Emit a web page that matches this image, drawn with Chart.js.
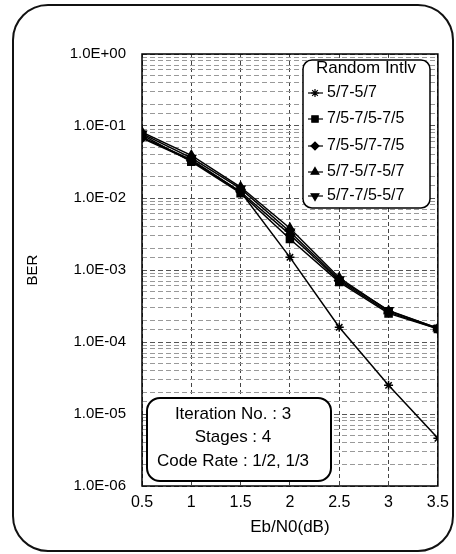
<!DOCTYPE html>
<html>
<head>
<meta charset="utf-8">
<script src="https://cdn.jsdelivr.net/npm/chart.js@4/dist/chart.umd.min.js"></script>
<style>
  html, body { margin: 0; padding: 0; background: #fff; }
  #wrap { position: relative; width: 456px; height: 554px; }
  #frame {
    position: absolute; left: 12px; top: 4px; width: 442px; height: 548px;
    box-sizing: border-box; border: 2px solid #111; border-radius: 36px;
    pointer-events: none;
  }
</style>
</head>
<body>
<div id="wrap">
  <canvas id="berChart" width="456" height="554"></canvas>
  <div id="frame"></div>
</div>
<script>
// Eb/N0 (dB) en el eje x
const ebn0 = [0.5, 1, 1.5, 2, 2.5, 3, 3.5];

// BER por cada combinacion de codigos
const ber_57_57 = [0.070, 0.034, 0.0122, 0.0015, 1.6e-4, 2.5e-5, 4.6e-6];
const ber_75_75_75 = [0.075, 0.032, 0.0117, 0.0027, 6.8e-4, 2.5e-4, 1.52e-4];
const ber_75_57_75 = [0.068, 0.033, 0.0122, 0.0031, 7.1e-4, 2.6e-4, 1.52e-4];
const ber_57_57_57 = [0.082, 0.039, 0.0142, 0.0038, 7.8e-4, 2.7e-4, 1.55e-4];
const ber_57_75_57 = [0.078, 0.036, 0.0135, 0.0034, 7.4e-4, 2.75e-4, 1.55e-4];

const seriesLabels = ["5/7-5/7", "7/5-7/5-7/5", "7/5-5/7-7/5", "5/7-5/7-5/7", "5/7-7/5-5/7"];
const legendTitle = "Random Intlv";
const infoLines = ["Iteration No. : 3", "Stages : 4", "Code Rate : 1/2, 1/3"];

const FONT = "'Liberation Sans', Arial, sans-serif";

function puntos(ys) {
  return ebn0.map((x, i) => ({ x, y: ys[i] }));
}

function etiquetaSci(v) {
  const e = Math.round(Math.log10(v));
  if (Math.abs(v / Math.pow(10, e) - 1) > 1e-6) return '';
  const signo = e < 0 ? '-' : '+';
  return '1.0E' + signo + String(Math.abs(e)).padStart(2, '0');
}

const estilos = [
  { pointStyle: 'star', radius: 4.5, rotation: 0 },
  { pointStyle: 'rect', radius: 5, rotation: 0 },
  { pointStyle: 'rectRot', radius: 4.5, rotation: 0 },
  { pointStyle: 'triangle', radius: 5, rotation: 0 },
  { pointStyle: 'triangle', radius: 5, rotation: 180 }
];
const valores = [ber_57_57, ber_75_75_75, ber_75_57_75, ber_57_57_57, ber_57_75_57];

const datasets = valores.map((v, i) => ({
  label: seriesLabels[i],
  data: puntos(v),
  borderColor: '#000',
  backgroundColor: '#000',
  borderWidth: 1.5,
  pointStyle: estilos[i].pointStyle,
  pointRadius: estilos[i].radius,
  pointRotation: estilos[i].rotation,
  pointBorderWidth: 1.5,
  tension: 0
}));

function rrect(ctx, x, y, w, h, r) {
  ctx.beginPath();
  ctx.moveTo(x + r, y);
  ctx.arcTo(x + w, y, x + w, y + h, r);
  ctx.arcTo(x + w, y + h, x, y + h, r);
  ctx.arcTo(x, y + h, x, y, r);
  ctx.arcTo(x, y, x + w, y, r);
  ctx.closePath();
}

// Marco del area, leyenda y cuadro de texto
const extras = {
  id: 'extras',
  beforeDatasetsDraw(chart) {
    const { ctx, chartArea: a } = chart;
    ctx.save();
    ctx.strokeStyle = '#000';
    ctx.lineWidth = 1.5;
    ctx.setLineDash([]);
    ctx.strokeRect(a.left, a.top, a.right - a.left, a.bottom - a.top);
    ctx.restore();
  },
  afterDraw(chart) {
    const { ctx } = chart;
    ctx.save();
    ctx.setLineDash([]);

    // leyenda
    ctx.fillStyle = '#fff';
    ctx.strokeStyle = '#000';
    ctx.lineWidth = 1.5;
    rrect(ctx, 303, 60, 127, 148, 9);
    ctx.fill();
    ctx.stroke();

    ctx.fillStyle = '#000';
    ctx.textBaseline = 'middle';
    ctx.textAlign = 'center';
    ctx.font = '17px ' + FONT;
    ctx.fillText(legendTitle, 366, 68);

    ctx.textAlign = 'left';
    ctx.font = '16px ' + FONT;
    const ys = [93, 119, 146, 172, 196];
    chart.data.datasets.forEach((ds, i) => {
      const y = ys[i];
      ctx.strokeStyle = '#000';
      ctx.lineWidth = 1.2;
      ctx.beginPath();
      ctx.moveTo(308, y);
      ctx.lineTo(323, y);
      ctx.stroke();
      ctx.fillStyle = '#000';
      Chart.helpers.drawPoint(ctx, {
        pointStyle: ds.pointStyle,
        rotation: ds.pointRotation,
        radius: ds.pointRadius - 0.5,
        borderWidth: 1.2
      }, 315, y);
      ctx.fillStyle = '#000';
      ctx.fillText(ds.label, 327, y);
    });

    // cuadro de parametros
    ctx.fillStyle = '#fff';
    ctx.strokeStyle = '#000';
    ctx.lineWidth = 2;
    rrect(ctx, 147, 398, 184, 83, 13);
    ctx.fill();
    ctx.stroke();
    ctx.fillStyle = '#000';
    ctx.textAlign = 'center';
    ctx.font = '17px ' + FONT;
    infoLines.forEach((t, i) => ctx.fillText(t, 233, 414 + i * 23.5));
    ctx.restore();
  }
};

new Chart(document.getElementById('berChart').getContext('2d'), {
  type: 'line',
  data: { datasets },
  options: {
    responsive: false,
    animation: false,
    layout: { padding: { left: 24, right: 17, top: 54, bottom: 16 } },
    plugins: { legend: { display: false }, tooltip: { enabled: false } },
    scales: {
      x: {
        type: 'linear',
        min: 0.5, max: 3.5,
        afterFit(s) { s.height = 52; },
        ticks: {
          stepSize: 0.5, color: '#000', padding: 7,
          font: { family: FONT, size: 16 },
          callback: v => String(v)
        },
        grid: { color: '#444', lineWidth: 1, drawTicks: false },
        border: { display: false, dash: [4, 3] },
        title: { display: true, text: 'Eb/N0(dB)', color: '#000', padding: { top: 6, bottom: 0 }, font: { family: FONT, size: 17 } }
      },
      y: {
        type: 'logarithmic',
        min: 1e-6, max: 1,
        afterFit(s) { s.width = 118; },
        ticks: {
          autoSkip: false, color: '#000', padding: 16,
          font: { family: FONT, size: 15 },
          callback: v => etiquetaSci(v)
        },
        grid: {
          drawTicks: false,
          lineWidth: 1,
          color: c => (c.tick && etiquetaSci(c.tick.value) !== '') ? '#555' : '#999'
        },
        border: { display: false, dash: [5, 3] },
        title: { display: true, text: 'BER', color: '#000', padding: 0, font: { family: FONT, size: 15 } }
      }
    }
  },
  plugins: [extras]
});
</script>
</body>
</html>
